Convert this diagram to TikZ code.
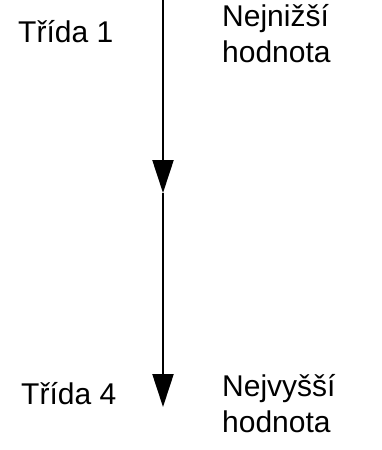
\documentclass[tikz,border=0pt]{standalone}
\usepackage{fontspec}
\setmainfont{Liberation Sans}
\usetikzlibrary{arrows.meta}

\tikzset{
    label text/.style={anchor=base west, inner sep=0pt, align=left,
        font=\fontsize{30}{36}\selectfont},
    scale arrow/.style={line width=2.2pt, -{Triangle[length=33pt, width=21pt]}}
}

\begin{document}
\begin{tikzpicture}[x=1pt, y=-1pt]
    \useasboundingbox (0,0) rectangle (382,450);

    % Points on the scale
    \coordinate (top) at (163,0);
    \coordinate (mid) at (163,193);
    \coordinate (bottom) at (163,407);

    % Class labels
    \node[label text] (class1) at (18,42) {Třída 1};
    \node[label text] (class4) at (21,404) {Třída 4};

    % Value labels (anchored at the last line)
    \node[label text] (lowest) at (222,62) {Nejnižší\\hodnota};
    \node[label text] (highest) at (222,432) {Nejvyšší\\hodnota};

    % Arrows down the scale
    \draw[scale arrow] (top) -- (mid);
    \draw[scale arrow] (mid) -- (bottom);

\end{tikzpicture}
\end{document}
